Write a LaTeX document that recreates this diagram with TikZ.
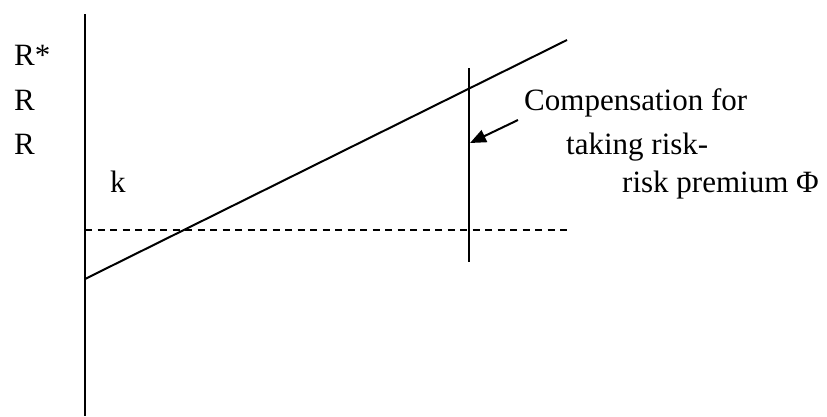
\documentclass[tikz,border=0pt]{standalone}
\usepackage{fontspec}
\setmainfont{Liberation Serif}
\usetikzlibrary{arrows.meta}
\begin{document}
\begin{tikzpicture}[x=1pt,y=-1pt,
  lbl/.style={anchor=base west,inner sep=0pt,font=\fontsize{31}{37}\selectfont},
  ln/.style={line width=2pt,black},
  dashln/.style={line width=1.6pt,black,dash pattern=on 7pt off 5.5pt},
  arr/.style={line width=2pt,-{Triangle[length=16pt,width=13pt]}}]
\useasboundingbox (0,0) rectangle (827,416);
% coordinates
\coordinate (axtop) at (85,14);
\coordinate (axbot) at (85,416);
\coordinate (dlow) at (85,279);
\coordinate (dhigh) at (567,40);
\coordinate (hl) at (85,230);
\coordinate (hr) at (567,230);
\coordinate (vtop) at (469,68);
\coordinate (vbot) at (469,262);
\coordinate (astart) at (518,120);
\coordinate (atip) at (470,143);
% lines
\draw[ln] (axtop) -- (axbot);
\draw[ln] (dlow) -- (dhigh);
\draw[dashln] (hl) -- (hr);
\draw[ln] (vtop) -- (vbot);
\draw[arr] (astart) -- (atip);
% labels
\node[lbl] (rstar) at (14,65) {R*};
\node[lbl] (r1) at (14,110) {R};
\node[lbl] (r2) at (14,154) {R};
\node[lbl] (k) at (110,192) {k};
\node[lbl] (comp) at (524,110) {Compensation for};
\node[lbl] (taking) at (566,154) {taking risk-};
\node[lbl] (prem) at (622,192) {risk premium Φ};
\end{tikzpicture}
\end{document}
